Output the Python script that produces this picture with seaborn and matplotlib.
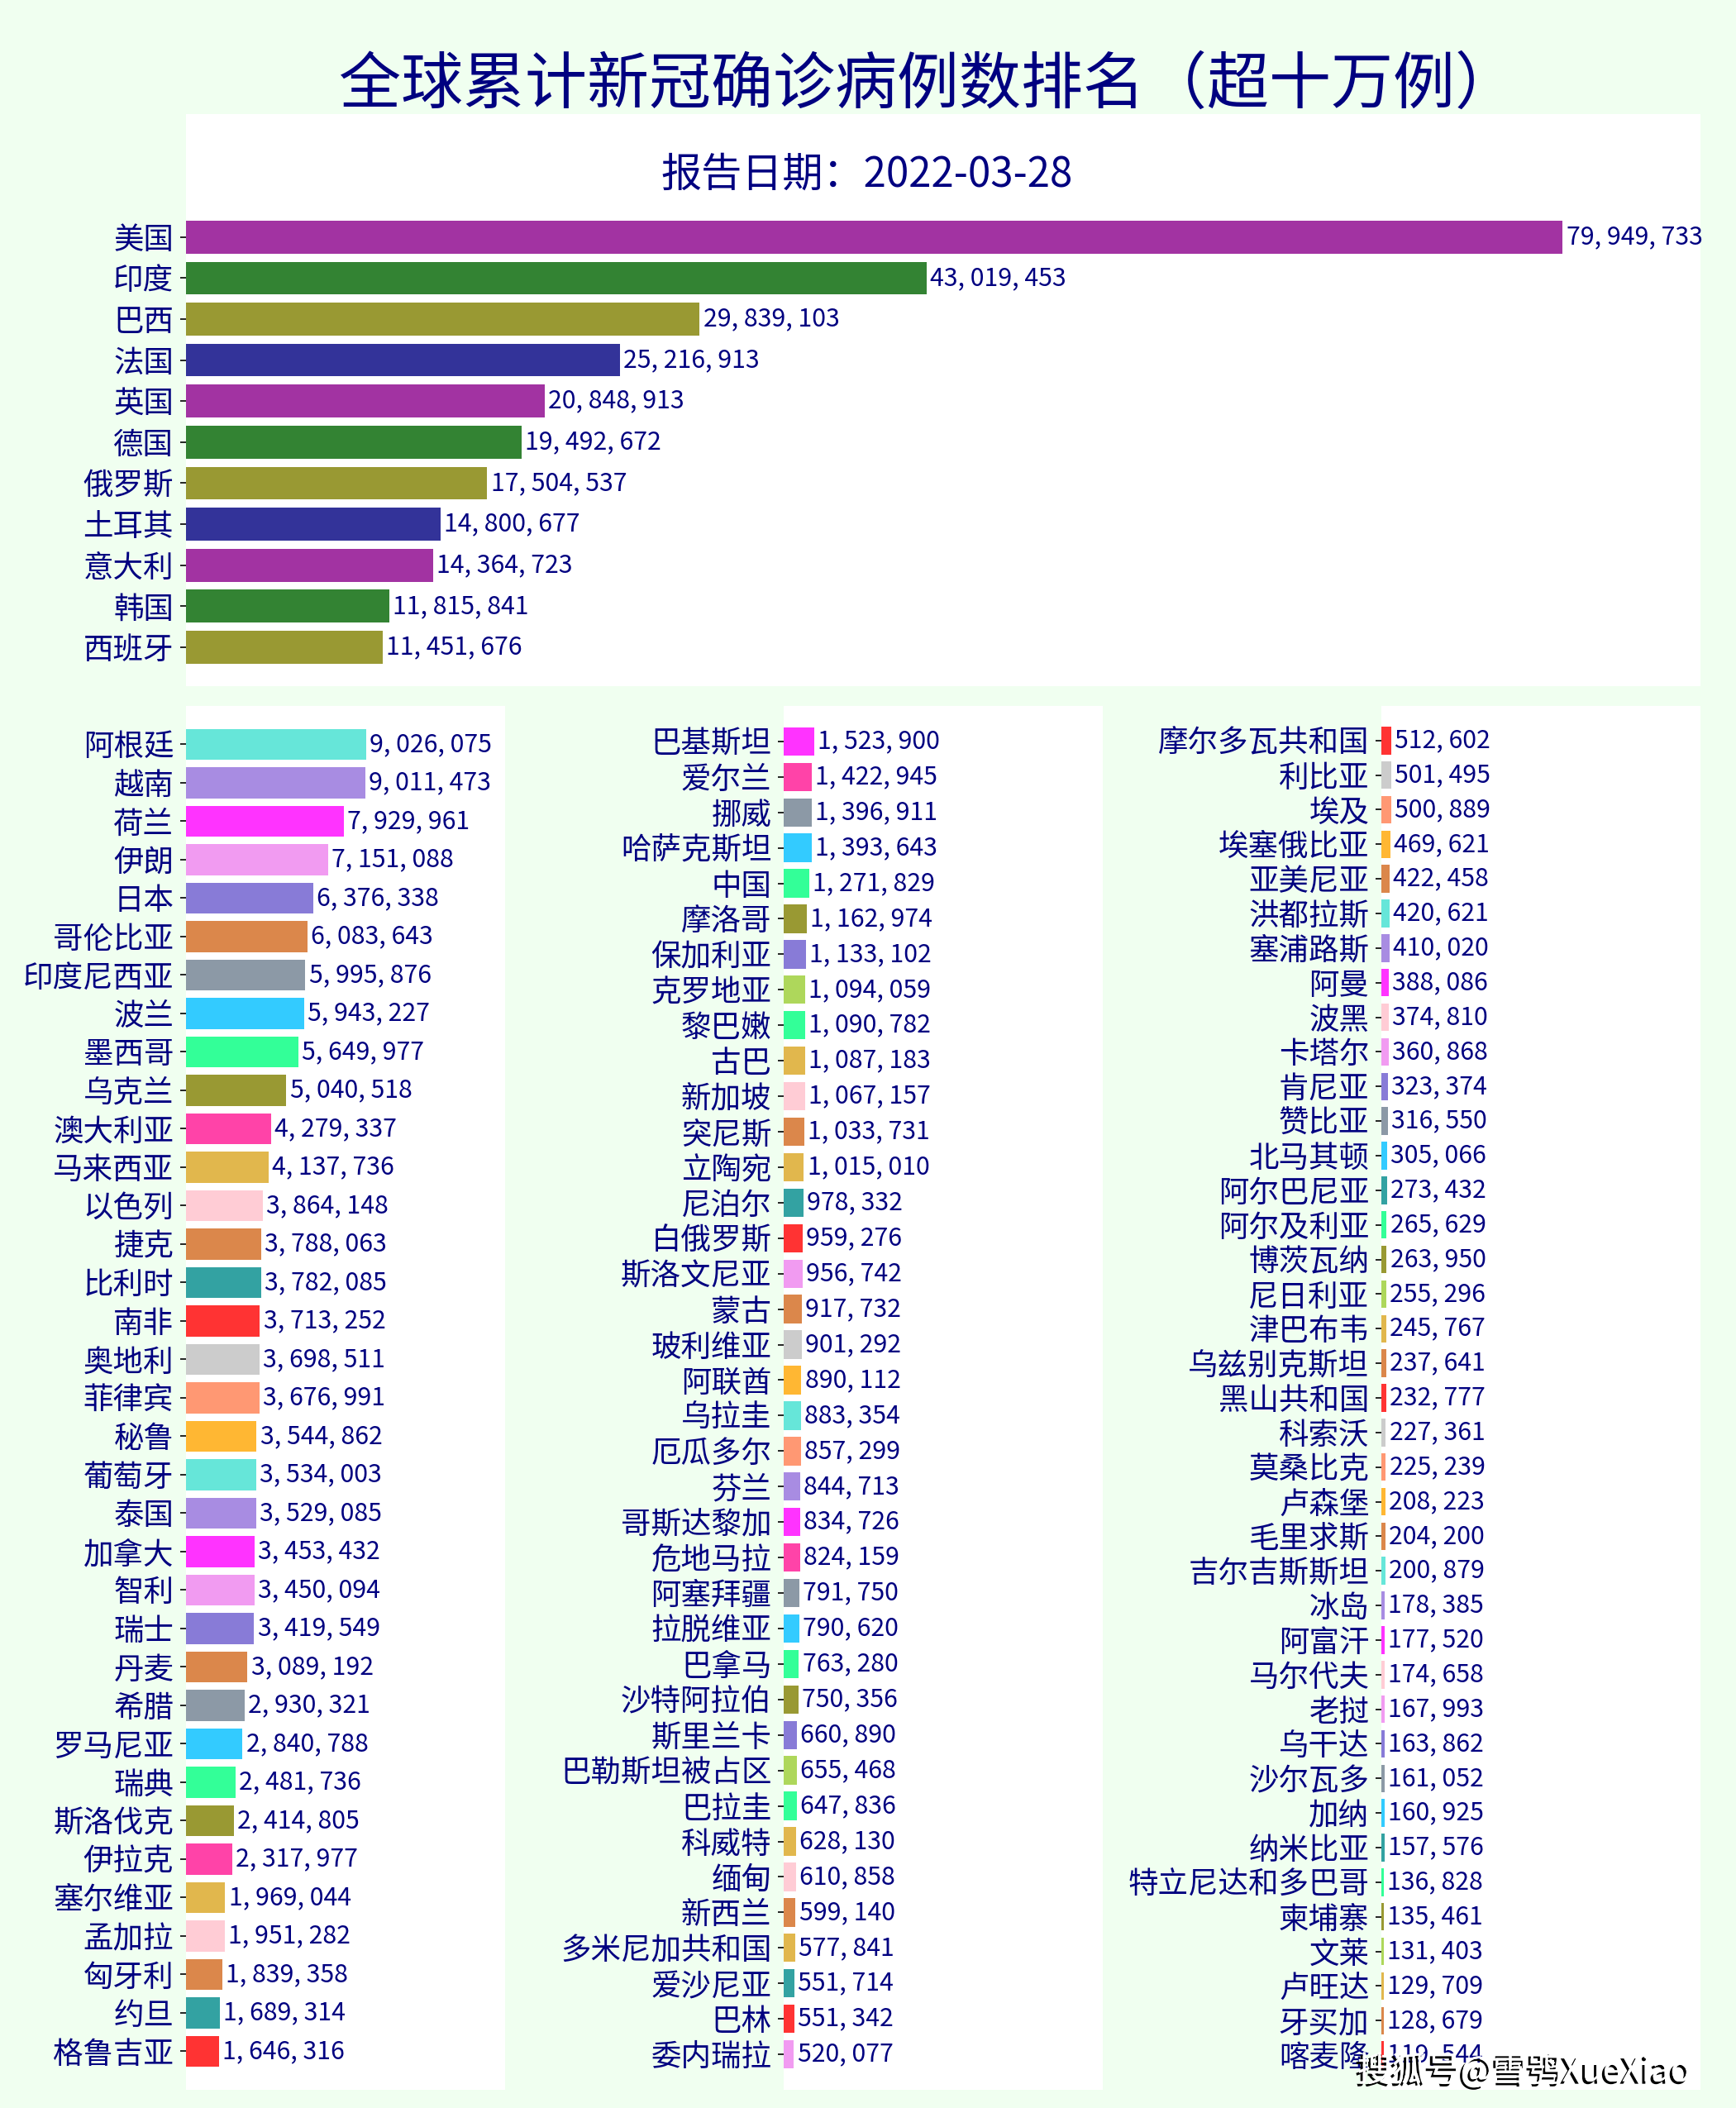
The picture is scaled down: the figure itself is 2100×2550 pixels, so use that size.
import matplotlib
matplotlib.use("Agg")
import matplotlib.pyplot as plt
import matplotlib.patheffects as pe
import seaborn as sns

plt.rcParams["font.family"] = ["Noto Sans CJK SC", "DejaVu Sans"]

title = "全球累计新冠确诊病例数排名（超十万例）"
report_date = "报告日期：2022-03-28"

top_names = ["美国", "印度", "巴西", "法国", "英国", "德国", "俄罗斯", "土耳其",
             "意大利", "韩国", "西班牙"]
top_values = [79949733, 43019453, 29839103, 25216913, 20848913, 19492672,
              17504537, 14800677, 14364723, 11815841, 11451676]

left_names = ["阿根廷", "越南", "荷兰", "伊朗", "日本", "哥伦比亚", "印度尼西亚",
              "波兰", "墨西哥", "乌克兰", "澳大利亚", "马来西亚", "以色列", "捷克",
              "比利时", "南非", "奥地利", "菲律宾", "秘鲁", "葡萄牙", "泰国", "加拿大",
              "智利", "瑞士", "丹麦", "希腊", "罗马尼亚", "瑞典", "斯洛伐克", "伊拉克",
              "塞尔维亚", "孟加拉", "匈牙利", "约旦", "格鲁吉亚"]
left_values = [9026075, 9011473, 7929961, 7151088, 6376338, 6083643, 5995876,
               5943227, 5649977, 5040518, 4279337, 4137736, 3864148, 3788063,
               3782085, 3713252, 3698511, 3676991, 3544862, 3534003, 3529085,
               3453432, 3450094, 3419549, 3089192, 2930321, 2840788, 2481736,
               2414805, 2317977, 1969044, 1951282, 1839358, 1689314, 1646316]

mid_names = ["巴基斯坦", "爱尔兰", "挪威", "哈萨克斯坦", "中国", "摩洛哥", "保加利亚",
             "克罗地亚", "黎巴嫩", "古巴", "新加坡", "突尼斯", "立陶宛", "尼泊尔",
             "白俄罗斯", "斯洛文尼亚", "蒙古", "玻利维亚", "阿联酋", "乌拉圭", "厄瓜多尔",
             "芬兰", "哥斯达黎加", "危地马拉", "阿塞拜疆", "拉脱维亚", "巴拿马",
             "沙特阿拉伯", "斯里兰卡", "巴勒斯坦被占区", "巴拉圭", "科威特", "缅甸",
             "新西兰", "多米尼加共和国", "爱沙尼亚", "巴林", "委内瑞拉"]
mid_values = [1523900, 1422945, 1396911, 1393643, 1271829, 1162974, 1133102,
              1094059, 1090782, 1087183, 1067157, 1033731, 1015010, 978332,
              959276, 956742, 917732, 901292, 890112, 883354, 857299, 844713,
              834726, 824159, 791750, 790620, 763280, 750356, 660890, 655468,
              647836, 628130, 610858, 599140, 577841, 551714, 551342, 520077]

right_names = ["摩尔多瓦共和国", "利比亚", "埃及", "埃塞俄比亚", "亚美尼亚", "洪都拉斯",
               "塞浦路斯", "阿曼", "波黑", "卡塔尔", "肯尼亚", "赞比亚", "北马其顿",
               "阿尔巴尼亚", "阿尔及利亚", "博茨瓦纳", "尼日利亚", "津巴布韦",
               "乌兹别克斯坦", "黑山共和国", "科索沃", "莫桑比克", "卢森堡", "毛里求斯",
               "吉尔吉斯斯坦", "冰岛", "阿富汗", "马尔代夫", "老挝", "乌干达", "沙尔瓦多",
               "加纳", "纳米比亚", "特立尼达和多巴哥", "柬埔寨", "文莱", "卢旺达",
               "牙买加", "喀麦隆"]
right_values = [512602, 501495, 500889, 469621, 422458, 420621, 410020, 388086,
                374810, 360868, 323374, 316550, 305066, 273432, 265629, 263950,
                255296, 245767, 237641, 232777, 227361, 225239, 208223, 204200,
                200879, 178385, 177520, 174658, 167993, 163862, 161052, 160925,
                157576, 136828, 135461, 131403, 129709, 128679, 119544]

# colour cycles (drawn with alpha 0.8 on white)
top_cycle = ["darkmagenta", "darkgreen", "olive", "navy"]
left_cycle = ["turquoise", "mediumpurple", "magenta", "violet", "slateblue",
              "chocolate", "slategray", "deepskyblue", "springgreen", "olive",
              "deeppink", "goldenrod", "pink", "chocolate", "darkcyan", "red",
              "silver", "coral", "orange"]
mid_cycle = ["magenta", "deeppink", "slategray", "deepskyblue", "springgreen",
             "olive", "slateblue", "yellowgreen", "springgreen", "goldenrod",
             "pink", "chocolate", "goldenrod", "darkcyan", "red", "violet",
             "chocolate", "silver", "orange", "turquoise", "coral", "mediumpurple"]
right_cycle = ["red", "silver", "coral", "orange", "chocolate", "turquoise",
               "mediumpurple", "magenta", "pink", "violet", "slateblue",
               "slategray", "deepskyblue", "darkcyan", "springgreen", "olive",
               "yellowgreen", "goldenrod", "chocolate"]

TEXT = "navy"


def fmt_num(v):
    return f"{v:,.0f}".replace(",", ", ")


def draw_panel(ax, names, values, cycle, xmax, ytop):
    colors = [cycle[i % len(cycle)] for i in range(len(names))]
    sns.barplot(x=values, y=names, hue=names, palette=colors, legend=False,
                orient="h", width=0.8, saturation=1, alpha=0.8, ax=ax)
    for c in ax.containers:
        ax.bar_label(c, fmt=fmt_num, padding=2, color=TEXT, fontsize=14.5)
    ax.set_xlim(0, xmax)
    ax.set_ylim(len(names), ytop)
    ax.set_xticks([])
    ax.set_xlabel("")
    ax.set_ylabel("")
    ax.tick_params(axis="y", labelsize=17.5, labelcolor=TEXT, length=3.5)
    ax.set_facecolor("white")
    for s in ax.spines.values():
        s.set_visible(False)


fig = plt.figure(figsize=(14, 17), dpi=150, facecolor="#F0FFF0")

ax_top = fig.add_axes([0.107, 0.6745, 0.8725, 0.2714])
ax_l = fig.add_axes([0.1071, 0.00863, 0.1837, 0.6565])
ax_m = fig.add_axes([0.4514, 0.00863, 0.1837, 0.6565])
ax_r = fig.add_axes([0.7957, 0.00863, 0.1837, 0.6565])

draw_panel(ax_top, top_names, top_values, top_cycle, max(top_values) * 1.1, -3)
ax_top.set_ylim(len(top_names) - 0.05, -3)
draw_panel(ax_l, left_names, left_values, left_cycle, 16e6, -1)
draw_panel(ax_m, mid_names, mid_values, mid_cycle, 16e6, -1)
draw_panel(ax_r, right_names, right_values, right_cycle, 16e6, -1)

fig.text(0.5345, 0.9595, title, ha="center", va="center", fontsize=36,
         color=TEXT, fontweight="medium")
fig.text(0.4995, 0.917, report_date, ha="center", va="center", fontsize=23.6,
         color=TEXT)

fig.text(0.974, 0.0176, "搜狐号@雪鸮XueXiao", ha="right", va="center",
         fontsize=20, color="white",
         path_effects=[pe.withSimplePatchShadow(offset=(-1.5, -1.5),
                                                shadow_rgbFace="black", alpha=1),
                       pe.Normal()])

fig.savefig("out.png", dpi=150, facecolor=fig.get_facecolor())
